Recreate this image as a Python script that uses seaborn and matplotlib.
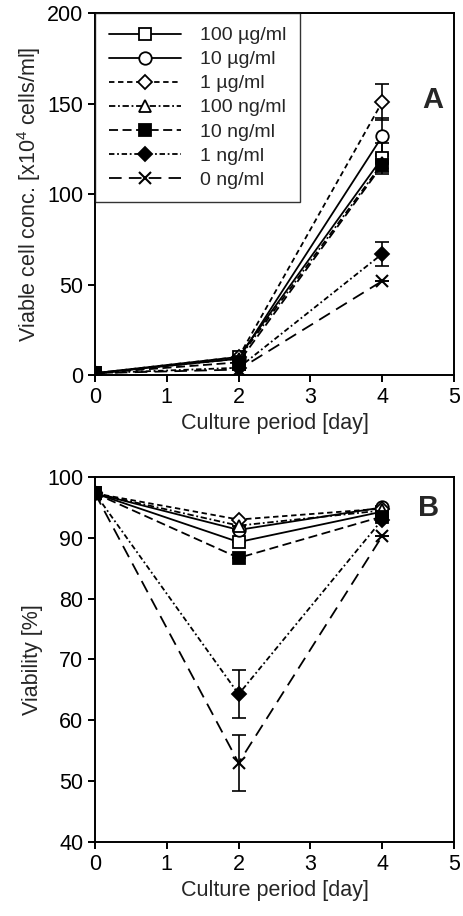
import matplotlib
matplotlib.use("Agg")
import matplotlib.pyplot as plt
import seaborn as sns

# Data
days = [0, 2, 4]
labels = ["100 µg/ml", "10 µg/ml", "1 µg/ml", "100 ng/ml", "10 ng/ml", "1 ng/ml", "0 ng/ml"]

# Panel A: viable cell concentration [x10^4 cells/ml]
conc_100ug = [1, 10, 120]
conc_10ug = [1, 9, 132]
conc_1ug = [1, 10, 151]
conc_100ng = [1, 9, 117]
conc_10ng = [1, 7, 116]
conc_1ng = [1, 4, 67]
conc_0ng = [1, 3, 52]

err_conc_100ug = [0, 0, 8]
err_conc_10ug = [0, 0, 10]
err_conc_1ug = [0, 0, 10]
err_conc_100ng = [0, 0, 0]
err_conc_10ng = [0, 0, 5]
err_conc_1ng = [0, 0, 6.5]
err_conc_0ng = [0, 0, 0]

# Panel B: viability [%]
via_100ug = [97.3, 89.3, 94.3]
via_10ug = [97.3, 91.3, 95.0]
via_1ug = [97.3, 93.0, 94.8]
via_100ng = [97.3, 92.0, 94.5]
via_10ng = [97.3, 86.7, 93.5]
via_1ng = [97.3, 64.3, 93.0]
via_0ng = [97.3, 53.0, 90.3]

err_via_1ng = [0, 3.9, 0]
err_via_0ng = [0, 4.6, 0]
err_via_none = [0, 0, 0]

conc = [conc_100ug, conc_10ug, conc_1ug, conc_100ng, conc_10ng, conc_1ng, conc_0ng]
conc_err = [err_conc_100ug, err_conc_10ug, err_conc_1ug, err_conc_100ng,
            err_conc_10ng, err_conc_1ng, err_conc_0ng]
via = [via_100ug, via_10ug, via_1ug, via_100ng, via_10ng, via_1ng, via_0ng]
via_err = [err_via_none, err_via_none, err_via_none, err_via_none,
           err_via_none, err_via_1ng, err_via_0ng]

# marker, face colour, line style per series
styles = [
    ("s", "white", "-"),
    ("o", "white", "-"),
    ("D", "white", (0, (3, 2))),
    ("^", "white", (0, (3.5, 1.5, 1, 1.5))),
    ("s", "black", (0, (5, 2.5))),
    ("D", "black", (0, (3, 1.5, 1, 1.5))),
    ("x", "black", (0, (7, 4))),
]
msizes = [9, 9, 7, 8, 9, 7, 9]

sns.set_theme(style="ticks")
plt.rcParams["font.family"] = ["Liberation Sans", "DejaVu Sans"]
plt.rcParams["mathtext.default"] = "regular"
plt.rcParams["axes.linewidth"] = 1.4
plt.rcParams["xtick.major.width"] = 1.4
plt.rcParams["ytick.major.width"] = 1.4
plt.rcParams["xtick.major.size"] = 5
plt.rcParams["ytick.major.size"] = 5
plt.rcParams["xtick.direction"] = "out"
plt.rcParams["ytick.direction"] = "out"

FS = 15.5

fig = plt.figure(figsize=(4.64, 9.16), dpi=100)
axA = fig.add_axes([0.2047, 0.5906, 0.774, 0.395])
axB = fig.add_axes([0.2047, 0.0808, 0.774, 0.3985])


def draw(ax, series, errors, with_label):
    for i, vals in enumerate(series):
        m, fc, ls = styles[i]
        sns.lineplot(x=days, y=vals, ax=ax, color="black", linestyle=ls, linewidth=1.3,
                     marker=m, markersize=msizes[i], markerfacecolor=fc,
                     markeredgecolor="black", markeredgewidth=1.3 if m != "x" else 1.5,
                     label=labels[i] if with_label else None, legend=with_label,
                     zorder=3)
        ax.errorbar(days, vals, yerr=errors[i], fmt="none", ecolor="black",
                    elinewidth=1.2, capsize=5, capthick=1.2, zorder=2)


draw(axA, conc, conc_err, True)
draw(axB, via, via_err, False)

for ax in (axA, axB):
    ax.set_xlim(0, 5)
    ax.set_xticks([0, 1, 2, 3, 4, 5])
    ax.set_xlabel("Culture period [day]", fontsize=FS)
    ax.tick_params(labelsize=FS, colors="black")
    for sp in ax.spines.values():
        sp.set_visible(True)
        sp.set_color("black")

axA.set_ylim(0, 200)
axA.set_yticks([0, 50, 100, 150, 200])
axA.set_ylabel("Viable cell conc. [x10$^{4}$ cells/ml]", fontsize=FS, labelpad=3)
axA.text(0.94, 0.76, "A", transform=axA.transAxes, fontsize=21, fontweight="bold",
         ha="center", va="center")

axB.set_ylim(40, 100)
axB.set_yticks([40, 50, 60, 70, 80, 90, 100])
axB.set_ylabel("Viability [%]", fontsize=FS, labelpad=3)
axB.text(0.93, 0.915, "B", transform=axB.transAxes, fontsize=21, fontweight="bold",
         ha="center", va="center")

leg = axA.legend(loc="upper left", frameon=True, fancybox=False, edgecolor="black",
                 borderaxespad=0, fontsize=14, handlelength=3.7, labelspacing=0.33,
                 handletextpad=1.0, borderpad=0.7)
leg.get_frame().set_linewidth(1.0)

fig.savefig("out.png", dpi=100)
